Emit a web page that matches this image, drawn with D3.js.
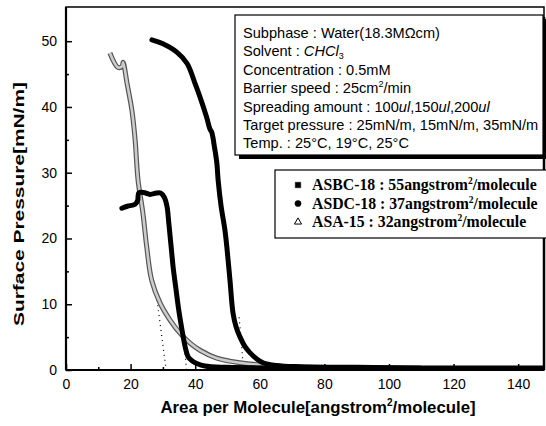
<!DOCTYPE html>
<html><head><meta charset="utf-8">
<script src="https://cdn.jsdelivr.net/npm/d3@7"></script>
<style>body{margin:0;background:#fff}</style>
</head><body>
<svg id="c" width="546" height="426"></svg>
<script>
// ---- data ----
const asbcX = [26.6,30,34.4,37.5,40,41.5,43.5,44.6,45.1,46,46.7,47.1,48,49.2,49.8,50.8,51.7,52.7,53.9,55.5,57,59,61,65,72,90,110,148];
const asbcY = [50.2,49.6,48.3,46.6,43.5,41.5,38.5,36.6,36.2,33.8,31.5,28.9,25,21.3,18.7,13.5,8.7,6.5,5.0,3.5,2.6,1.7,1.1,0.7,0.5,0.4,0.3,0.3];
const asdcX = [17.3,19,21.4,22.2,22.5,24,26,28,29.3,30.5,31.3,31.8,32.2,32.7,33.2,34,34.8,35.6,36.3,37,37.8,39,40.5,43,50,70,100,148];
const asdcY = [24.6,24.9,25.2,25.8,26.9,27.0,26.7,26.9,26.9,26.2,24.8,22.5,20.5,18,15.5,12.5,9.5,7,5,3.3,2.0,1.4,1.0,0.6,0.4,0.3,0.2,0.2];
const asaX = [13.6,16.1,17.4,17.7,18.9,20.4,21.4,22.3,23.8,25,26.5,29.1,32.2,35.3,38.4,41.5,46.7,53.9,62,72,90,110];
const asaY = [48.2,46.0,46.2,46.8,43.6,39.5,35,28.9,23.9,18.7,13.7,10.2,7.6,5.6,4.1,3.0,1.8,1.1,0.7,0.5,0.35,0.3];
// extrapolation (limiting area) dotted lines: [x0,x1] / [y0,y1]
const extrapX = [[28.2,31.0],[36.4,37.3],[53.6,55.0]];
const extrapY = [[10.6,0],[5.5,0],[8.0,0]];
const xTicks = [0,20,40,60,80,100,120,140];
const yTicks = [0,10,20,30,40,50];
const legendNames = ["ASBC-18 : 55angstrom","ASDC-18 : 37angstrom","ASA-15 : 32angstrom"];
const infoLines = ["Subphase : Water(18.3M\u03A9cm)","Solvent : CHCl3","Concentration : 0.5mM","Barrier speed : 25cm2/min","Spreading amount : 100ul,150ul,200ul","Target pressure : 25mN/m, 15mN/m, 35mN/m","Temp. : 25\u00B0C, 19\u00B0C, 25\u00B0C"];

// ---- chart ----
const svg = d3.select("#c");
const L=66, R=544, T=7, B=370;
const x = d3.scaleLinear().domain([0,148]).range([L,R]);
const y = d3.scaleLinear().domain([0,55.2]).range([B,T]);
const font = "Liberation Sans, Arial, sans-serif";

svg.append("clipPath").attr("id","clip").append("rect").attr("x",L).attr("y",T).attr("width",R-L).attr("height",B-T);

// frame
svg.append("rect").attr("x",L).attr("y",T).attr("width",R-L).attr("height",B-T)
  .attr("fill","none").attr("stroke","#000").attr("stroke-width",1.5);
svg.append("line").attr("x1",L).attr("x2",L).attr("y1",T).attr("y2",B).attr("stroke","#000").attr("stroke-width",2.2);
svg.append("line").attr("x1",L).attr("x2",R).attr("y1",B).attr("y2",B).attr("stroke","#000").attr("stroke-width",2.2);
svg.append("line").attr("x1",R).attr("x2",R).attr("y1",T+10).attr("y2",B).attr("stroke","#000").attr("stroke-width",2.5);

// axes (ticks inward)
const xAxis = svg.append("g").attr("transform",`translate(0,${B})`)
  .call(d3.axisBottom(x).tickValues(xTicks).tickSize(-6).tickPadding(9).tickFormat(d3.format("d")));
const xMinor = svg.append("g").attr("transform",`translate(0,${B})`)
  .call(d3.axisBottom(x).tickValues(d3.range(10,150,20)).tickSize(-3).tickFormat(""));
const yAxis = svg.append("g").attr("transform",`translate(${L},0)`)
  .call(d3.axisLeft(y).tickValues(yTicks).tickSize(-6).tickPadding(9).tickFormat(d3.format("d")));
const yMinor = svg.append("g").attr("transform",`translate(${L},0)`)
  .call(d3.axisLeft(y).tickValues([5,15,25,35,45]).tickSize(-3).tickFormat(""));
[xAxis,xMinor,yAxis,yMinor].forEach(g=>{
  g.select(".domain").remove();
  g.selectAll("line").attr("stroke","#000").attr("stroke-width",1.5);
  g.selectAll("text").attr("font-family",font).attr("font-size",14).attr("fill","#000");
});

// dotted extrapolation lines
const plot = svg.append("g").attr("clip-path","url(#clip)");
extrapX.forEach((ex,i)=>{
  plot.append("line").attr("x1",x(ex[0])).attr("y1",y(extrapY[i][0])).attr("x2",x(ex[1])).attr("y2",y(extrapY[i][1]))
    .attr("stroke","#000").attr("stroke-width",1.2).attr("stroke-dasharray","1,4");
});

const line = d3.line().x(d=>x(d[0])).y(d=>y(d[1])).curve(d3.curveCatmullRom.alpha(0.5));
const asa = asaX.map((v,i)=>[v,asaY[i]]);
plot.append("path").attr("d",line(asa)).attr("fill","none").attr("stroke","#555").attr("stroke-width",5).attr("stroke-linejoin","round");
plot.append("path").attr("d",line(asa)).attr("fill","none").attr("stroke","#ccc").attr("stroke-width",2.6).attr("stroke-linejoin","round");
plot.append("path").attr("d",line(asdcX.map((v,i)=>[v,asdcY[i]]))).attr("fill","none").attr("stroke","#000").attr("stroke-width",5).attr("stroke-linecap","round").attr("stroke-linejoin","round");
plot.append("path").attr("d",line(asbcX.map((v,i)=>[v,asbcY[i]]))).attr("fill","none").attr("stroke","#000").attr("stroke-width",5).attr("stroke-linecap","round").attr("stroke-linejoin","round");

// info box
const bx=235, by=15, bw=308, bh=140;
svg.append("rect").attr("x",bx+4).attr("y",by+4).attr("width",bw).attr("height",bh).attr("fill","#000");
svg.append("rect").attr("x",bx).attr("y",by).attr("width",bw).attr("height",bh).attr("fill","#fff").attr("stroke","#000").attr("stroke-width",1.2);
const info = svg.append("g").attr("font-family",font).attr("font-size",14.6).attr("fill","#000");
infoLines.forEach((s,i)=>{
  const t = info.append("text").attr("x",bx+8).attr("y",by+23+i*18.4);
  if (i===1){ t.append("tspan").text("Solvent : "); t.append("tspan").attr("font-style","italic").text("CHCl");
    t.append("tspan").attr("font-size",9).attr("dy",3).text("3"); }
  else if (i===3){ t.append("tspan").text("Barrier speed : 25cm"); t.append("tspan").attr("font-size",9).attr("dy",-6).text("2");
    t.append("tspan").attr("dy",6).text("/min"); }
  else if (i===4){ t.append("tspan").text("Spreading amount : 100"); t.append("tspan").attr("font-style","italic").text("ul");
    t.append("tspan").text(",150"); t.append("tspan").attr("font-style","italic").text("ul");
    t.append("tspan").text(",200"); t.append("tspan").attr("font-style","italic").text("ul"); }
  else t.text(s);
});

// legend box
const lx=275, ly=170, lw=275, lh=68;
svg.append("rect").attr("x",lx).attr("y",ly).attr("width",lw).attr("height",lh).attr("fill","#fff").attr("stroke","#000").attr("stroke-width",1.2);
const lg = svg.append("g").attr("font-family","Liberation Serif, Times New Roman, serif").attr("font-size",15.8).attr("font-weight","bold");
const symbols = [d3.symbolSquare, d3.symbolCircle, d3.symbolTriangle];
legendNames.forEach((s,i)=>{
  const yy = ly+15+i*18.5;
  svg.append("path").attr("d",d3.symbol().type(symbols[i]).size(i===2?22:30)())
    .attr("transform",`translate(${lx+23},${yy})`)
    .attr("fill",i===2?"#fff":"#000").attr("stroke","#000").attr("stroke-width",i===2?1:0.5);
  const t = lg.append("text").attr("x",lx+37).attr("y",yy+5);
  t.append("tspan").text(s);
  t.append("tspan").attr("font-size",9.5).attr("dy",-6).text("2");
  t.append("tspan").attr("dy",6).text("/molecule");
});

// axis titles
const xt = svg.append("text").attr("x",318).attr("y",413).attr("text-anchor","middle")
  .attr("font-family",font).attr("font-size",16.8).attr("font-weight","bold");
xt.append("tspan").text("Area per Molecule[angstrom");
xt.append("tspan").attr("font-size",10).attr("dy",-7).text("2");
xt.append("tspan").attr("dy",7).text("/molecule]");
svg.append("text").attr("transform","translate(24,204) rotate(-90)").attr("text-anchor","middle")
  .attr("font-family",font).attr("font-size",15.5).attr("font-weight","bold")
  .attr("textLength",244).attr("lengthAdjust","spacingAndGlyphs").text("Surface Pressure[mN/m]");
</script>
</body></html>
